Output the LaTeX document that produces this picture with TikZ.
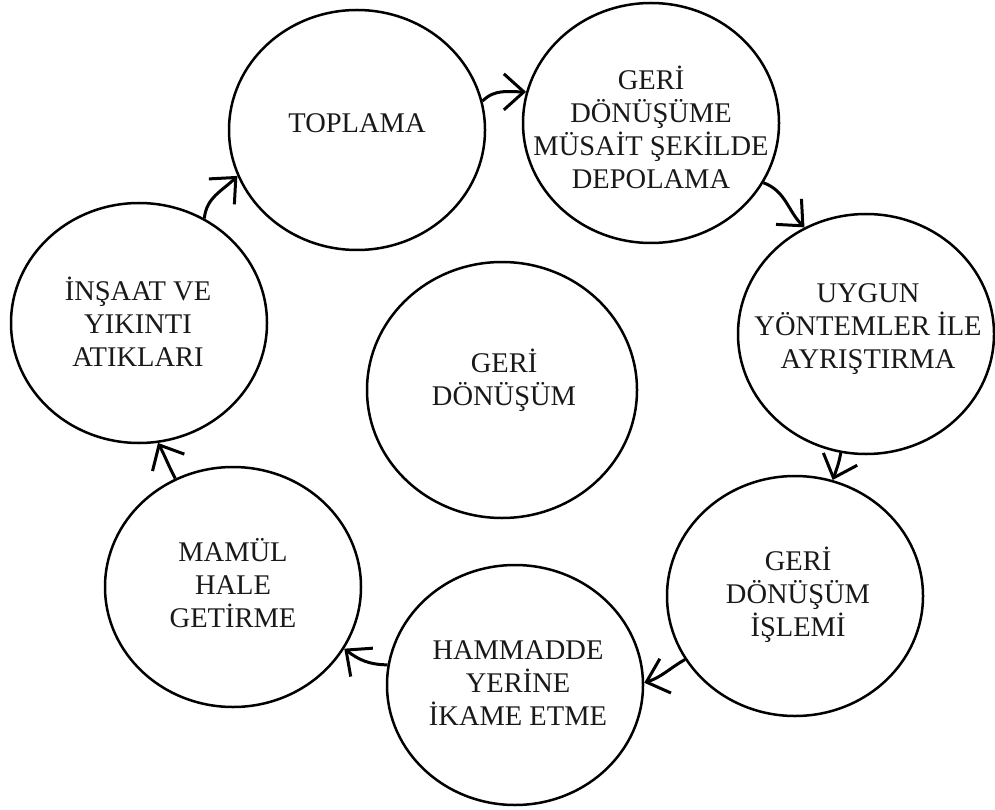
\documentclass[tikz,border=0pt]{standalone}
\usepackage{fontspec}
\setmainfont{Liberation Serif}
\usetikzlibrary{shapes.geometric}
\usetikzlibrary{arrows.meta}

\tikzset{
  stage/.style={ellipse, draw, line width=2.5pt, minimum width=256pt, minimum height=240pt, inner sep=0pt},
  stagetext/.style={align=center, inner sep=0pt, text=black!90, font=\fontsize{28.5}{33}\selectfont},
  flow/.style={line width=3pt, -{Straight Barb[length=20pt,width=36pt]}},
}

\begin{document}
\begin{tikzpicture}[x=1pt,y=1pt,yscale=-1,xscale=1]
\useasboundingbox (0,0) rectangle (995,810);

% the stages of the cycle
\node[stage] (toplama) at (357,130) {};
\node[stage] (depolama) at (651,123) {};
\node[stage] (ayristirma) at (866,334) {};
\node[stage] (islem) at (795,596) {};
\node[stage] (ikame) at (515,685) {};
\node[stage] (mamul) at (233,587) {};
\node[stage] (atik) at (139,323) {};

% centre
\node[stage, minimum width=270pt, minimum height=256pt] (geri) at (502,390) {};

% Text Node
\node[stagetext] (toplama-t) at (357,123) {TOPLAMA};
\node[stagetext] (depolama-t) at (651,127) {GERİ\\DÖNÜŞÜME\\MÜSAİT ŞEKİLDE\\DEPOLAMA};
\node[stagetext] (ayristirma-t) at (868,329) {UYGUN\\YÖNTEMLER İLE\\AYRIŞTIRMA};
\node[stagetext] (islem-t) at (798,595) {GERİ\\DÖNÜŞÜM\\İŞLEMİ};
\node[stagetext] (ikame-t) at (518,683) {HAMMADDE\\YERİNE\\İKAME ETME};
\node[stagetext] (mamul-t) at (233,583) {MAMÜL\\HALE\\GETİRME};
\node[stagetext] (atik-t) at (138,322) {İNŞAAT VE\\YIKINTI\\ATIKLARI};
\node[stagetext] (geri-t) at (504,380) {GERİ\\DÖNÜŞÜM};

% arrows between the stages
\draw[flow] (toplama.13) to[out=-45,in=180] (depolama.166);
\draw[flow] (depolama.-28) to[out=20,in=-135] (ayristirma.120);
\draw[flow] (ayristirma.258) to[out=100,in=-70] (islem.72);
\draw[flow] (islem.210) to[out=150,in=-18] (ikame.1);
\draw[flow] (ikame.171) to[out=180,in=38] (mamul.-29);
\draw[flow] (mamul.118) to[out=-118,in=62] (atik.-81);
\draw[flow] (atik.58) to[out=-85,in=135] (toplama.201);

\end{tikzpicture}
\end{document}
